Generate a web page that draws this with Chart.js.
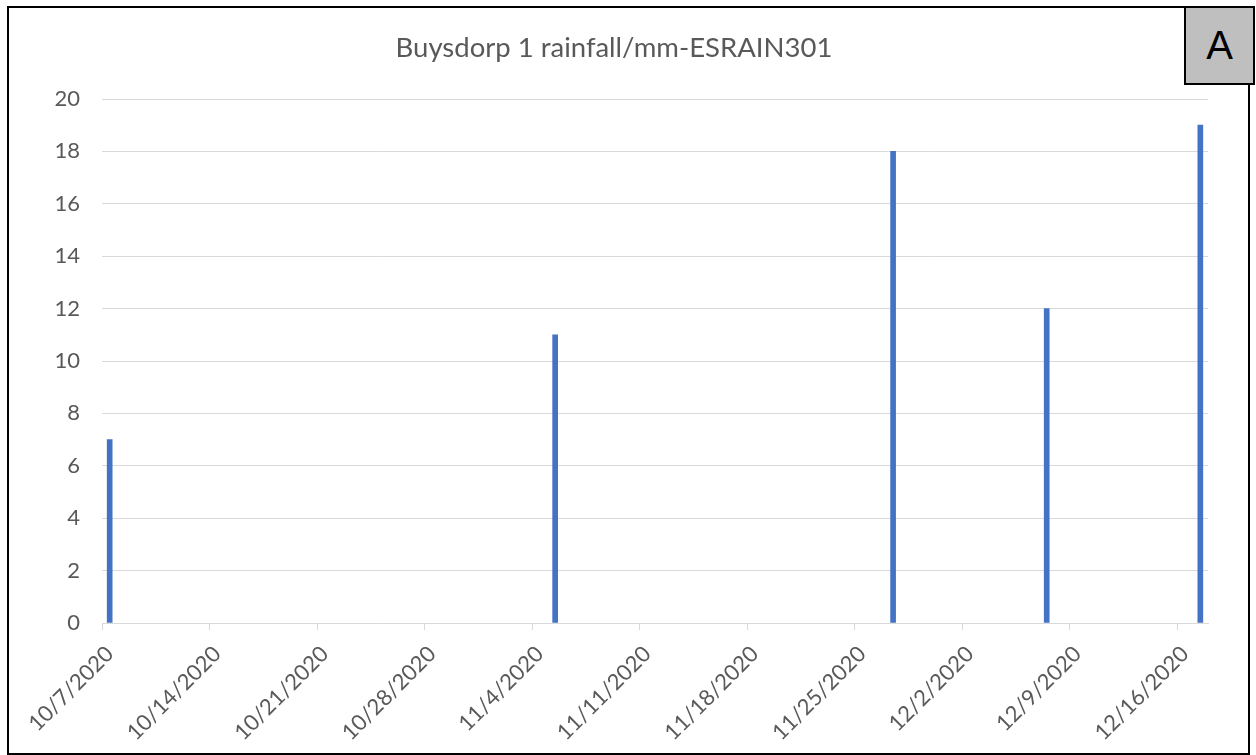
<!DOCTYPE html>
<html>
<head>
<meta charset="utf-8">
<script src="https://cdn.jsdelivr.net/npm/chart.js@4.4.1/dist/chart.umd.min.js"></script>
<style>
  html, body { margin: 0; padding: 0; background: #fff; }
  #wrap { position: relative; width: 1256px; height: 755px; overflow: hidden; }
  #rainChart { position: absolute; left: 0; top: 0; }
  #frame {
    position: absolute; left: 7px; top: 6px; width: 1243px; height: 749px;
    border: 2px solid #000; box-sizing: border-box; pointer-events: none;
  }
  #tag {
    position: absolute; left: 1184px; top: 6px; width: 71px; height: 79px;
    border: 2px solid #000; box-sizing: border-box; background: #bfbfbf;
    display: flex; align-items: center; justify-content: center;
    font-family: "Liberation Sans", Arial, sans-serif; font-size: 40px; color: #000;
  }
</style>
</head>
<body>
<div id="wrap">
  <canvas id="rainChart" width="1256" height="755"></canvas>
  <div id="frame"></div>
  <div id="tag">A</div>
</div>
<script>
// Axis range: one category per day
const firstDay = "2020-10-07";
const lastDay = "2020-12-17";

// Rainfall readings (mm)
const rainDates = ["2020-10-07", "2020-11-05", "2020-11-27", "2020-12-07", "2020-12-17"];
const rainMm = [7, 11, 18, 12, 19];

const textColor = "#595959";
const gridColor = "#d9d9d9";
const tickFont = { family: "Lato", size: 22 };

// Build the daily labels and drop each reading on its day
function fmtDate(d) {
  return (d.getUTCMonth() + 1) + "/" + d.getUTCDate() + "/" + d.getUTCFullYear();
}
const labels = [];
const values = [];
for (let t = Date.parse(firstDay); t <= Date.parse(lastDay); t += 86400000) {
  const d = new Date(t);
  const k = rainDates.indexOf(d.toISOString().slice(0, 10));
  labels.push(fmtDate(d));
  values.push(k >= 0 ? rainMm[k] : null);
}

const ctx = document.getElementById("rainChart").getContext("2d");
const rainChart = new Chart(ctx, {
  type: "bar",
  data: {
    labels: labels,
    datasets: [
      {
        data: values,
        backgroundColor: "#4472C4",
        barThickness: 5,
      },
    ],
  },
  options: {
    responsive: false,
    animation: false,
    // left padding + y axis width keep the plot at x=102, and centre the title
    layout: { padding: { left: 20, right: 48, top: 0, bottom: 0 } },
    plugins: {
      legend: { display: false },
      tooltip: { enabled: false },
      title: {
        display: true,
        text: "Buysdorp 1 rainfall/mm-ESRAIN301",
        color: textColor,
        font: { family: "Lato", size: 27.5, weight: "normal" },
        padding: { top: 32, bottom: 34 },
      },
    },
    scales: {
      x: {
        afterFit: (scale) => { scale.height = 132; },
        border: { color: gridColor, width: 1 },
        grid: {
          drawOnChartArea: false,
          tickLength: 7,
          color: (c) => (c.index % 7 === 0 ? gridColor : "rgba(0,0,0,0)"),
        },
        ticks: {
          autoSkip: false,
          minRotation: 45,
          maxRotation: 45,
          padding: 11,
          color: textColor,
          font: tickFont,
          callback: function (v, i) {
            return i % 7 === 0 ? this.getLabelForValue(v) : "";
          },
        },
      },
      y: {
        min: 0,
        max: 20,
        afterFit: (scale) => { scale.width = 82; },
        border: { display: false },
        grid: { color: gridColor, drawTicks: false },
        ticks: { stepSize: 2, padding: 22, color: textColor, font: tickFont },
      },
    },
  },
});
</script>
</body>
</html>
